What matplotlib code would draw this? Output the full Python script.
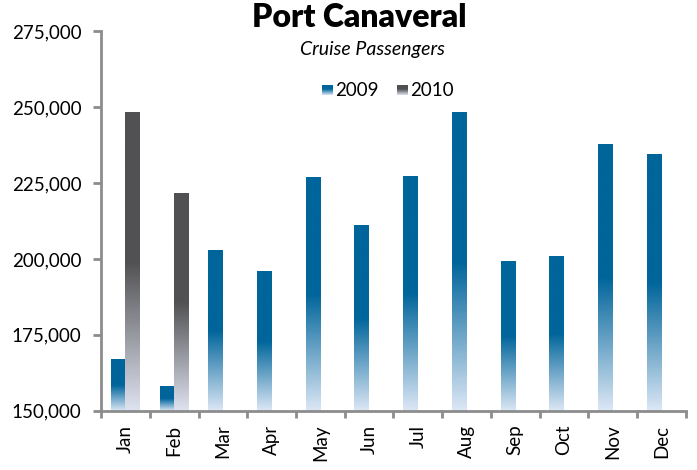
import numpy as np
import matplotlib
matplotlib.use("Agg")
from matplotlib import pyplot as plt
from matplotlib.colors import to_rgb

# Data
months = ['Jan', 'Feb', 'Mar', 'Apr', 'May', 'Jun',
          'Jul', 'Aug', 'Sep', 'Oct', 'Nov', 'Dec']
pax_2009 = [167000, 158200, 202800, 195900, 226800, 211000,
            227100, 248400, 199200, 200900, 237600, 234300]
pax_2010 = [248400, 221500]
series_names = ['2009', '2010']
yticks = [150000, 175000, 200000, 225000, 250000, 275000]

blue = '#00659b'
blue_light = '#dce7f5'
grey = '#515153'
grey_light = '#dfe3f0'
axis_grey = '#8c8c8c'

plt.rcParams['font.family'] = ['Lato', 'DejaVu Sans']


def gradient(top, bottom, n=200, solid=0.5):
    # solid colour in the upper part, then fade to the light colour
    t = np.linspace(0, 1, n)
    f = np.clip((t - solid) / (1 - solid), 0, 1)[:, None]
    c = np.array(to_rgb(top)) * (1 - f) + np.array(to_rgb(bottom)) * f
    return c[:, None, :]


def paint(ax, bars, top, bottom):
    img = gradient(top, bottom)
    for b in bars:
        x0, y0 = b.get_x(), b.get_y()
        w, h = b.get_width(), b.get_height()
        b.set_visible(False)
        ax.imshow(img, extent=(x0, x0 + w, y0, y0 + h), aspect='auto',
                  origin='upper', zorder=2, interpolation='bilinear')


fig = plt.figure(figsize=(6.97, 4.70), dpi=100)
ax = fig.add_axes([0.145, 0.126, 0.839, 0.808])

x = np.arange(len(months))
w = 0.3
b1 = ax.bar(x - w / 2, np.array(pax_2009) - 150000, w, bottom=150000)
b2 = ax.bar(x[:len(pax_2010)] + w / 2, np.array(pax_2010) - 150000, w,
            bottom=150000)
paint(ax, b1, blue, blue_light)
paint(ax, b2, grey, grey_light)

ax.set_xlim(-0.5, 11.5)
ax.set_ylim(150000, 275000)
ax.set_yticks(yticks)
ax.set_yticklabels([f'{v:,}' for v in yticks])
ax.set_xticks(x)
ax.set_xticklabels(months, rotation=90)
ax.set_xticks(np.arange(-0.5, 12, 1), minor=True)
ax.tick_params(axis='x', which='major', length=0, pad=10, labelsize=13.5)
ax.tick_params(axis='x', which='minor', length=5, width=2, color=axis_grey,
               direction='out')
ax.tick_params(axis='y', length=6, width=2, color=axis_grey, pad=8,
               labelsize=13.5)
for s in ['top', 'right']:
    ax.spines[s].set_visible(False)
for s in ['left', 'bottom']:
    ax.spines[s].set_color(axis_grey)
    ax.spines[s].set_linewidth(2)

fig.text(0.515, 0.962, 'Port Canaveral', ha='center', va='center',
         fontsize=23, fontweight='heavy')
fig.text(0.534, 0.895, 'Cruise Passengers', ha='center', va='center',
         fontsize=14, style='italic')

# legend with gradient swatches
for i, (name, top, bottom) in enumerate(zip(series_names, [blue, grey],
                                             [blue_light, grey_light])):
    sx = [322, 397][i]
    lax = fig.add_axes([sx / 697, 1 - 95 / 470, 11 / 697, 10 / 470])
    lax.imshow(gradient(top, bottom, solid=0.4), aspect='auto',
               extent=(0, 1, 0, 1), interpolation='bilinear')
    lax.axis('off')
    fig.text((sx + 13) / 697, 1 - 90 / 470, name, ha='left', va='center',
             fontsize=13.5)

fig.savefig('out.png', dpi=100)
